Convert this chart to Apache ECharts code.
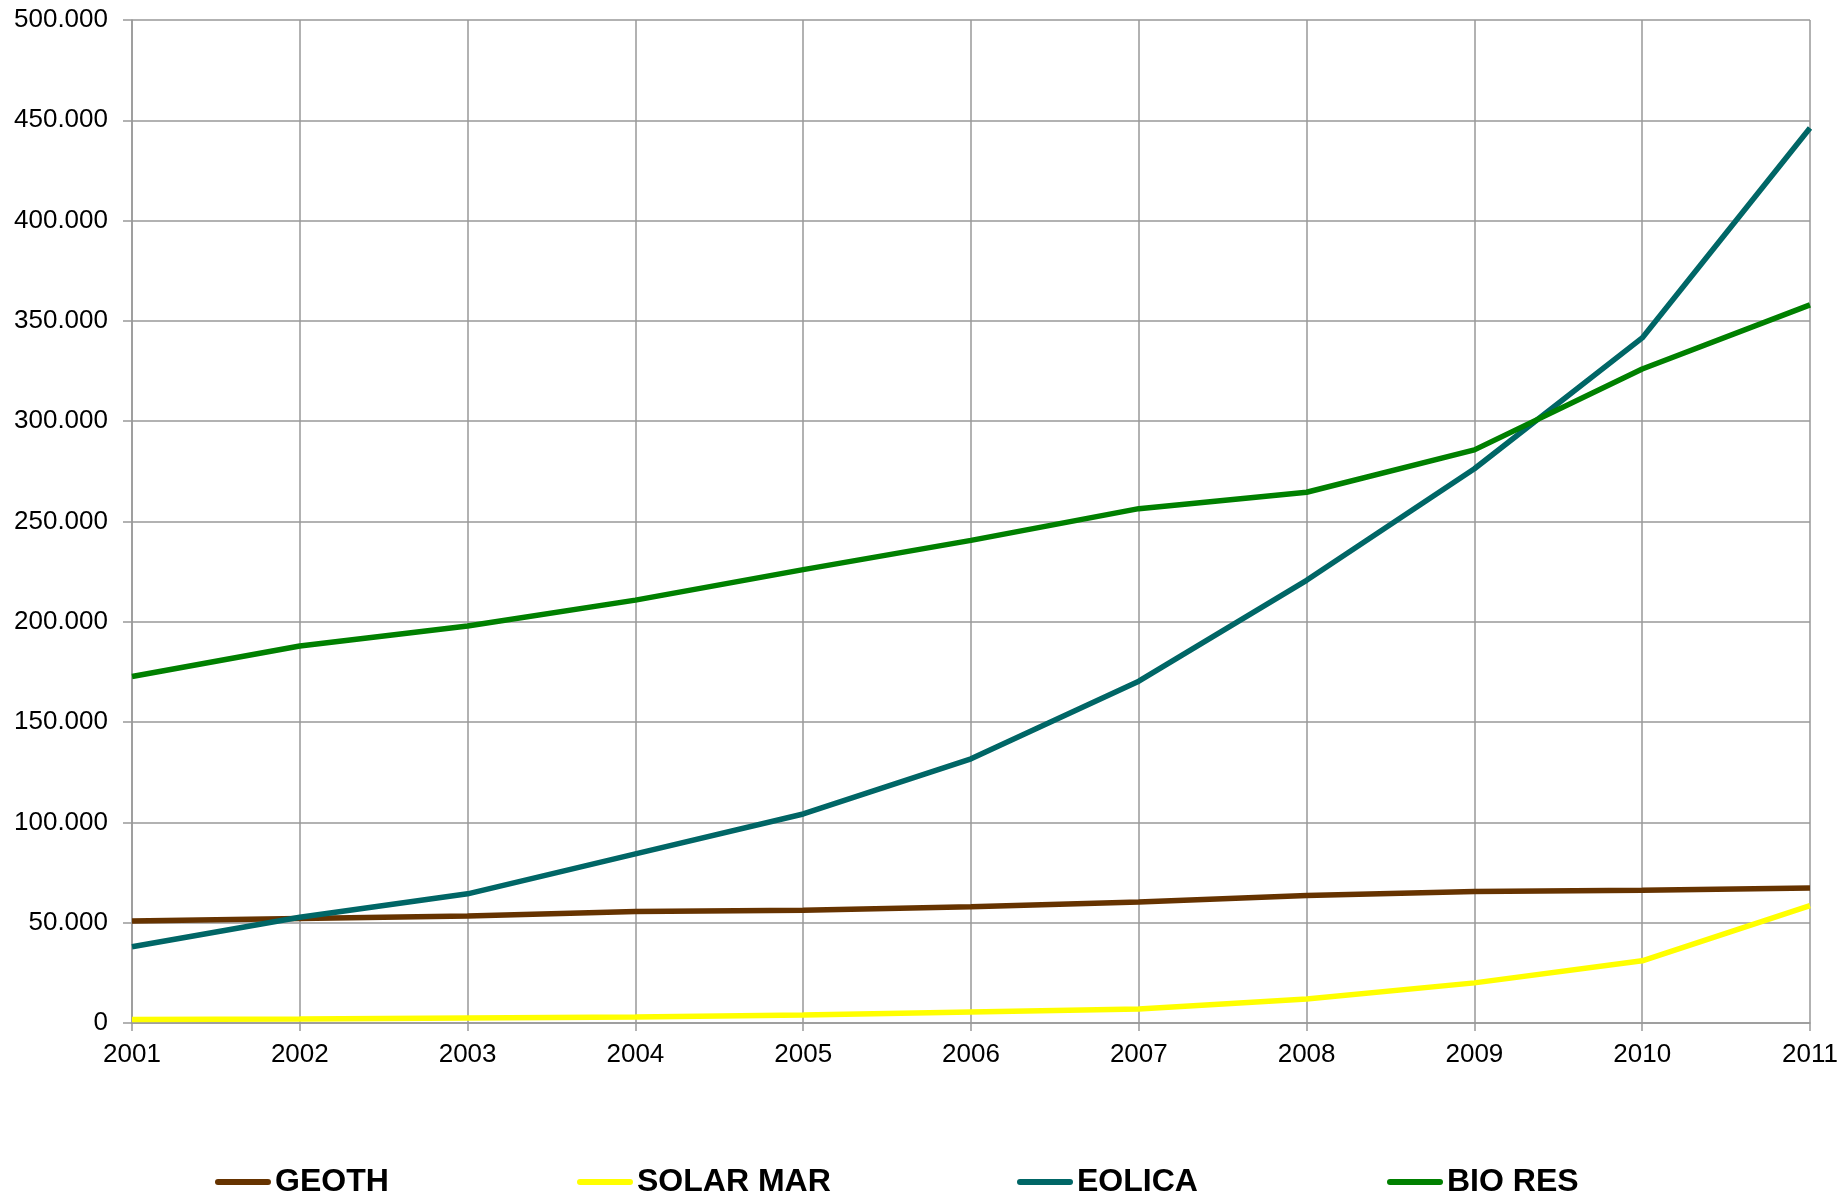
<!DOCTYPE html>
<html>
<head>
<meta charset="utf-8">
<title>GEOTH / SOLAR MAR / EOLICA / BIO RES 2001-2011</title>
<script src="https://cdn.jsdelivr.net/npm/echarts@6/dist/echarts.min.js"></script>
<style>
  html, body { margin: 0; padding: 0; background: #fff; }
  #chart { width: 1841px; height: 1198px; }
</style>
</head>
<body>
<div id="chart"></div>
<script>
// Years on the horizontal axis
const years = ['2001', '2002', '2003', '2004', '2005', '2006', '2007', '2008', '2009', '2010', '2011'];

// Yearly values per source
const geoth    = [50900, 52100, 53300, 55600, 56200, 58000, 60300, 63500, 65600, 66200, 67300];
const solarMar = [1800, 2000, 2500, 3000, 4000, 5500, 7000, 12000, 20000, 31000, 58500];
const eolica   = [38000, 52700, 64400, 84300, 104200, 131700, 170400, 220700, 276300, 341500, 446200];
const bioRes   = [172700, 187900, 197900, 210800, 226000, 240600, 256400, 264600, 285700, 326000, 358000];

const seriesNames  = ['GEOTH', 'SOLAR MAR', 'EOLICA', 'BIO RES'];
const seriesColors = ['#663300', '#FFFF00', '#006666', '#008000'];
const seriesData   = [geoth, solarMar, eolica, bioRes];

const FONT = '"Liberation Sans", Arial, Helvetica, sans-serif';
const GRID_COLOR = '#999999';

// Value labels use a dot as thousands separator
function dotThousands(v) {
  return String(Math.round(v)).replace(/\B(?=(\d{3})+(?!\d))/g, '.');
}

// Capsule-shaped legend key
const capsule = 'path://M3,0 L53,0 A3,3 0 0 1 53,6 L3,6 A3,3 0 0 1 3,0 Z';
const legendLefts = [210, 572, 1012, 1382];

const chart = echarts.init(document.getElementById('chart'), null, { renderer: 'canvas' });

chart.setOption({
  backgroundColor: '#ffffff',
  animation: false,
  grid: {
    left: 132, right: 31, top: 20, bottom: 175,
    containLabel: false,
    outerBoundsMode: 'none'
  },
  legend: seriesNames.map((name, i) => ({
    data: [name],
    left: legendLefts[i],
    top: 1161,
    icon: capsule,
    itemWidth: 56,
    itemHeight: 6,
    itemGap: 0,
    selectedMode: false,
    textStyle: { fontFamily: FONT, fontSize: 32, fontWeight: 'bold', color: '#000', padding: [0, 0, 0, -1] }
  })),
  xAxis: {
    type: 'category',
    data: years,
    boundaryGap: false,
    axisLine: { show: true, lineStyle: { color: GRID_COLOR, width: 1.5 } },
    axisTick: { show: true, inside: false, length: 8, lineStyle: { color: GRID_COLOR, width: 1.5 } },
    axisLabel: { fontFamily: FONT, fontSize: 26, color: '#000', margin: 19, interval: 0 },
    splitLine: { show: true, lineStyle: { color: GRID_COLOR, width: 1.5 } }
  },
  yAxis: {
    type: 'value',
    min: 0,
    max: 500000,
    interval: 50000,
    axisLine: { show: true, lineStyle: { color: GRID_COLOR, width: 1.5 } },
    axisTick: { show: true, inside: false, length: 9, lineStyle: { color: GRID_COLOR, width: 1.5 } },
    axisLabel: { fontFamily: FONT, fontSize: 26, color: '#000', margin: 24, formatter: dotThousands },
    splitLine: { show: true, lineStyle: { color: GRID_COLOR, width: 1.5 } }
  },
  series: seriesNames.map((name, i) => ({
    name: name,
    type: 'line',
    data: seriesData[i],
    symbol: 'none',
    smooth: false,
    color: seriesColors[i],
    lineStyle: { color: seriesColors[i], width: 5.5 },
    itemStyle: { color: seriesColors[i] },
    emphasis: { disabled: true }
  }))
});
</script>
</body>
</html>
